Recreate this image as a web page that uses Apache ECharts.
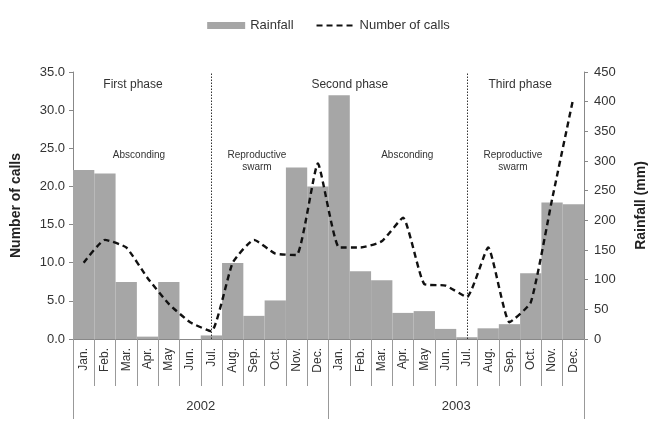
<!DOCTYPE html>
<html>
<head>
<meta charset="utf-8">
<script src="https://cdn.jsdelivr.net/npm/echarts@6/dist/echarts.min.js"></script>
<style>html,body{margin:0;padding:0;background:#fff;}#c{width:657px;height:426px;}</style>
</head>
<body>
<div id="c"></div>
<script>
const months = ['Jan.','Feb.','Mar.','Apr.','May','Jun.','Jul.','Aug.','Sep.','Oct.','Nov.','Dec.',
                'Jan.','Feb.','Mar.','Apr.','May','Jun.','Jul.','Aug.','Sep.','Oct.','Nov.','Dec.'];
const years = ['2002','2003'];
const rainfall = [285,279,96,4,96,0,6,128,39,65,289,257,
                  411,114,99,44,47,17,3,18,25,111,230,227];
const calls = [10,13,12,8,4.6,2.2,1.0,10,13,11.2,11,23,
               12,12,12.8,15.9,7.2,7.0,5.5,12,2.2,4.8,18.3,31.6];
const leftTicks = {min:0,max:35,interval:5};
const rightTicks = {min:0,max:450,interval:50};
const notes = [
  {i:2.32, v:34.2, t:'First phase', s:12},
  {i:12.5, v:34.2, t:'Second phase', s:12},
  {i:20.5, v:34.2, t:'Third phase', s:12},
  {i:2.6, v:24.9, t:'Absconding', s:10},
  {i:8.14, v:24.9, t:'Reproductive\nswarm', s:10},
  {i:15.2, v:24.9, t:'Absconding', s:10},
  {i:20.16, v:24.9, t:'Reproductive\nswarm', s:10}
];

const nMonths = months.length;
const yearCenters = years.map((y,k)=>k*12+6);

const chart = echarts.init(document.getElementById('c'));
const txt = '#333';
const axisGray = '#888';
const font = 'Liberation Sans, Arial, sans-serif';
chart.setOption({
  animation:false,
  textStyle:{fontFamily:font},
  legend:{
    top:14, left:'center',
    itemWidth:38, itemHeight:7, itemGap:22,
    textStyle:{fontSize:13,color:txt,fontFamily:font},
    data:[{name:'Rainfall',icon:'rect'},{name:'Number of calls',itemStyle:{opacity:0}}]
  },
  grid:{left:73,right:73,top:72,bottom:87},
  xAxis:[{
    type:'category', data:months, position:'bottom',
    axisLine:{show:true,lineStyle:{color:axisGray}},
    axisTick:{show:true,interval:0,length:47,lineStyle:{color:'#999'}},
    axisLabel:{interval:0,rotate:90,margin:9,fontSize:12,color:txt,fontFamily:font}
  },{
    type:'value', min:0, max:nMonths, position:'bottom', offset:47,
    gridIndex:0,
    axisLine:{show:false},
    splitLine:{show:false},
    axisTick:{show:false},
    axisLabel:{show:true,margin:14,fontSize:13,color:txt,fontFamily:font,
      customValues:yearCenters, formatter:v=>years[Math.round((v-6)/12)]}
  },{
    type:'category', data:months, position:'bottom',
    gridIndex:0,
    axisLine:{show:true,lineStyle:{color:axisGray}},
    axisTick:{show:true,length:80,interval:(idx)=>idx%12===0,lineStyle:{color:'#999'}},
    axisLabel:{show:false}
  }],
  yAxis:[{
    type:'value', position:'left', min:leftTicks.min, max:leftTicks.max, interval:leftTicks.interval,
    name:'Number of calls', nameLocation:'middle', nameRotate:90, nameGap:50,
    nameTextStyle:{fontSize:14,fontWeight:'bold',color:'#222',fontFamily:font},
    axisLine:{show:true,lineStyle:{color:axisGray}},
    axisTick:{show:true,length:4,lineStyle:{color:axisGray}},
    axisLabel:{formatter:v=>v.toFixed(1),fontSize:13,color:txt,margin:8,fontFamily:font},
    splitLine:{show:false}
  },{
    type:'value', position:'right', min:rightTicks.min, max:rightTicks.max, interval:rightTicks.interval,
    name:'Rainfall (mm)', nameLocation:'middle', nameRotate:90, nameGap:50,
    nameTextStyle:{fontSize:14,fontWeight:'bold',color:'#222',fontFamily:font},
    axisLine:{show:true,lineStyle:{color:axisGray}},
    axisTick:{show:true,length:4,lineStyle:{color:axisGray}},
    axisLabel:{fontSize:13,color:txt,margin:10,fontFamily:font},
    splitLine:{show:false}
  }],
  series:[{
    name:'Rainfall', type:'bar', xAxisIndex:0, yAxisIndex:1, data:rainfall,
    barCategoryGap:'0%', itemStyle:{color:'#a6a6a6'}, z:1
  },{
    name:'Number of calls', type:'line', xAxisIndex:0, yAxisIndex:0, data:calls,
    smooth:0.15, symbol:'none',
    lineStyle:{color:'#111',width:2.4,type:[6,4]},
    itemStyle:{color:'#111'}, z:3,
    markLine:{
      silent:true, symbol:['none','none'], label:{show:false},
      lineStyle:{color:'#333',type:[1.5,1.5],width:1},
      data:[{xAxis:6},{xAxis:18}]
    }
  }]
});
const p0 = chart.convertToPixel({xAxisIndex:0,yAxisIndex:0},[0,0]);
const p1 = chart.convertToPixel({xAxisIndex:0,yAxisIndex:0},[1,0]);
const w = p1[0]-p0[0];
chart.setOption({graphic:notes.map(n=>{
  const py = chart.convertToPixel({yAxisIndex:0},n.v);
  return {type:'text',x:p0[0]+n.i*w,y:py,
    style:{text:n.t,fontSize:n.s,fill:'#333',fontFamily:font,align:'center',verticalAlign:'top',lineHeight:n.s+2}};
})});
</script>
</body>
</html>
